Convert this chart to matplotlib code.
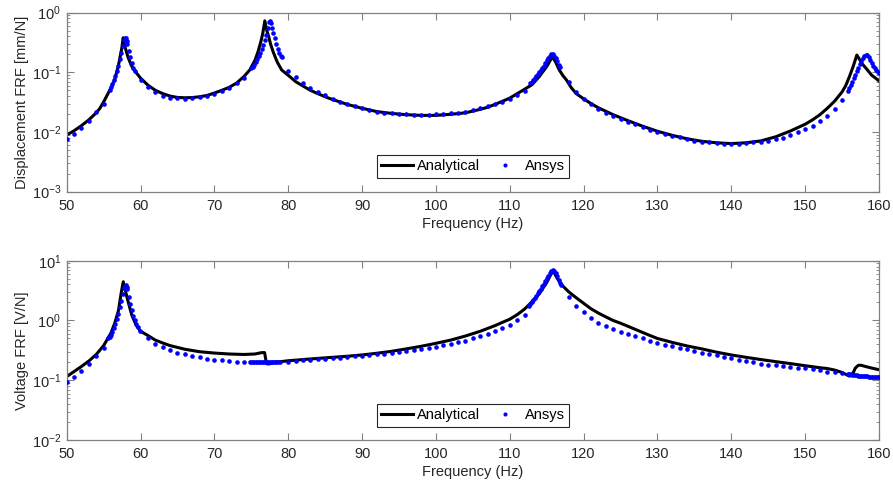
import matplotlib
matplotlib.use('Agg')
import matplotlib.pyplot as plt

plt.rcParams['font.family'] = ['Liberation Sans', 'DejaVu Sans']
plt.rcParams['font.size'] = 10

# displacement FRF [mm/N], analytical curve
disp_ana_f = [50, 51, 52, 53, 54, 54.5, 55, 56, 56.5, 57, 57.45, 57.65, 57.8, 58, 58.3, 58.7, 59, 60,
              61, 62, 63, 64, 65, 66, 67, 68, 69, 70, 71, 72, 73, 74, 74.8, 75.5, 75.9, 76.3, 76.55,
              76.83, 77.1, 77.35, 77.6, 77.96, 78.5, 79.1, 80.2, 81, 82, 83, 84, 85, 86, 87, 88, 90,
              92, 94, 96, 98, 100, 102, 104, 106, 107, 108, 110, 112, 113, 114, 115, 115.5, 115.75,
              116.2, 116.7, 117.2, 117.7, 118.3, 119, 120, 121, 122, 124, 126, 128, 130, 132, 134,
              136, 138, 140, 142, 144, 146, 148, 150, 151, 152, 153, 154, 155, 155.5, 156, 156.5,
              157, 157.3, 157.7, 158.3, 159, 160]
disp_ana = [0.0089, 0.0105, 0.0128, 0.016, 0.021, 0.025, 0.032, 0.055, 0.075, 0.13, 0.25, 0.38, 0.3,
            0.24, 0.18, 0.135, 0.115, 0.08, 0.061, 0.05, 0.044, 0.04, 0.038, 0.0375, 0.0378, 0.039,
            0.041, 0.045, 0.05, 0.056, 0.066, 0.085, 0.11, 0.16, 0.22, 0.33, 0.45, 0.73, 0.5, 0.4,
            0.3, 0.22, 0.15, 0.11, 0.085, 0.07, 0.059, 0.05, 0.044, 0.039, 0.035, 0.032, 0.029,
            0.025, 0.022, 0.0205, 0.0195, 0.019, 0.019, 0.0198, 0.021, 0.024, 0.026, 0.029, 0.037,
            0.052, 0.062, 0.085, 0.125, 0.16, 0.185, 0.15, 0.11, 0.088, 0.074, 0.056, 0.044, 0.036,
            0.03, 0.0255, 0.0195, 0.0155, 0.0125, 0.0103, 0.0088, 0.0077, 0.007, 0.0066, 0.0064,
            0.0066, 0.0071, 0.0083, 0.0104, 0.0135, 0.016, 0.0195, 0.025, 0.033, 0.047, 0.06, 0.085,
            0.125, 0.195, 0.17, 0.14, 0.115, 0.09, 0.072]

# displacement FRF, Ansys points
disp_ansys_f = [50, 51, 52, 53, 54, 55,
                55.8, 56.0, 56.2, 56.4, 56.6, 56.8, 57.0, 57.2, 57.4, 57.6, 57.8, 57.9, 58.0, 58.1,
                58.2, 58.4, 58.6, 58.8, 59.0, 59.2,
                60, 61, 62, 63, 64, 65, 66, 67, 68, 69, 70, 71, 72, 73, 74,
                75.0, 75.2, 75.4, 75.6, 75.8, 76.0, 76.2, 76.4, 76.6, 76.8, 77.0, 77.2, 77.4, 77.5,
                77.6, 77.8, 78.0, 78.2, 78.4, 78.6, 78.8, 79.0, 79.1,
                80, 81, 82, 83, 84, 85, 86, 87, 88, 89, 90, 91, 92, 93, 94, 95, 96, 97, 98, 99, 100,
                101, 102, 103, 104, 105, 106, 107, 108, 109, 110, 111, 112,
                112.8, 113.0, 113.2, 113.4, 113.6, 113.8, 114.0, 114.2, 114.4, 114.6, 114.8, 115.0,
                115.2, 115.4, 115.6, 115.8, 116.0, 116.2, 116.4, 116.6, 116.75,
                118, 119, 120, 121, 122, 123, 124, 125, 126, 127, 128, 129, 130, 131, 132, 133, 134,
                135, 136, 137, 138, 139, 140, 141, 142, 143, 144, 145, 146, 147, 148, 149, 150, 151,
                152, 153, 154, 155,
                155.8, 156.0, 156.2, 156.4, 156.6, 156.8, 157.0, 157.2, 157.4, 157.6, 157.8, 158.0,
                158.2, 158.4, 158.6, 158.8, 159.0, 159.2, 159.4, 159.6, 159.8, 160.0]
disp_ansys = [0.0076, 0.0093, 0.0118, 0.0155, 0.0214, 0.03,
              0.05, 0.056, 0.064, 0.074, 0.088, 0.105, 0.13, 0.165, 0.21, 0.28, 0.35, 0.38, 0.37,
              0.34, 0.3, 0.23, 0.18, 0.145, 0.12, 0.105,
              0.074, 0.056, 0.046, 0.0407, 0.0375, 0.0365, 0.0363, 0.037, 0.038, 0.04, 0.044, 0.049,
              0.055, 0.066, 0.081,
              0.117, 0.125, 0.135, 0.148, 0.165, 0.185, 0.21, 0.245, 0.29, 0.35, 0.43, 0.55, 0.7,
              0.73, 0.68, 0.55, 0.45, 0.37, 0.3, 0.25, 0.215, 0.19, 0.18,
              0.107, 0.082, 0.066, 0.055, 0.047, 0.041, 0.036, 0.032, 0.029, 0.027, 0.025, 0.0235,
              0.022, 0.021, 0.0205, 0.02, 0.0197, 0.0195, 0.0195, 0.0195, 0.0197, 0.02, 0.0205,
              0.021, 0.022, 0.0235, 0.025, 0.027, 0.029, 0.032, 0.036, 0.041, 0.049,
              0.066, 0.07, 0.075, 0.08, 0.086, 0.093, 0.1, 0.108, 0.118, 0.13, 0.143, 0.158, 0.175,
              0.19, 0.2, 0.2, 0.19, 0.172, 0.152, 0.135, 0.124,
              0.068, 0.047, 0.036, 0.029, 0.0244, 0.021, 0.0184, 0.0167, 0.015, 0.0135, 0.0122,
              0.011, 0.0101, 0.0093, 0.0087, 0.0081, 0.0076, 0.0072, 0.0069, 0.0067, 0.0065, 0.0064,
              0.0064, 0.0064, 0.0065, 0.0067, 0.0069, 0.0072, 0.0076, 0.0079, 0.0088, 0.0099, 0.0111,
              0.0128, 0.0155, 0.0188, 0.0247, 0.034,
              0.049, 0.055, 0.062, 0.07, 0.08, 0.092, 0.105, 0.12, 0.138, 0.155, 0.172, 0.187, 0.196,
              0.195, 0.18, 0.16, 0.145, 0.13, 0.118, 0.108, 0.1, 0.096]

# voltage FRF [V/N], analytical curve
volt_ana_f = [50, 51, 52, 53, 54, 55, 56, 56.5, 57, 57.4, 57.66, 57.9, 58.2, 58.5, 58.8, 59.2, 59.5,
              60, 61, 62, 63, 64, 66, 68, 70, 72, 74, 75.5, 76.4, 76.8, 77.05, 77.3, 77.6, 78, 79,
              80, 82, 84, 86, 88, 90, 92, 94, 96, 98, 100, 102, 104, 106, 108, 109, 110, 111, 112,
              113, 114, 115, 115.85, 116.3, 116.7, 117, 117.5, 118, 119, 120, 121, 122, 123, 124,
              125, 126, 127, 128, 129, 130, 132, 134, 136, 138, 140, 142, 144, 146, 148, 150, 152,
              153, 154, 155, 156, 156.4, 156.8, 157.2, 157.6, 158, 159, 160]
volt_ana = [0.115, 0.14, 0.17, 0.21, 0.27, 0.38, 0.62, 0.9, 1.45, 3.0, 4.45, 3.3, 2.35, 1.7, 1.25,
            0.95, 0.8, 0.66, 0.56, 0.47, 0.42, 0.38, 0.33, 0.3, 0.285, 0.275, 0.27, 0.275, 0.29,
            0.29, 0.19, 0.187, 0.19, 0.2, 0.205, 0.212, 0.222, 0.232, 0.242, 0.252, 0.265, 0.283,
            0.305, 0.335, 0.37, 0.415, 0.47, 0.55, 0.66, 0.82, 0.93, 1.05, 1.25, 1.55, 2.05, 2.8,
            4.3, 6.9, 5.4, 4.5, 4.0, 3.45, 3.0, 2.4, 1.94, 1.57, 1.33, 1.15, 1.0, 0.9, 0.8, 0.71,
            0.63, 0.56, 0.5, 0.43, 0.375, 0.335, 0.295, 0.265, 0.242, 0.222, 0.205, 0.19, 0.175,
            0.162, 0.157, 0.148, 0.135, 0.117, 0.125, 0.16, 0.178, 0.178, 0.172, 0.16, 0.15]

# voltage FRF, Ansys points
volt_ansys_f = [50, 51, 52, 53, 54, 55,
                55.6, 55.8, 56.0, 56.2, 56.4, 56.6, 56.8, 57.0, 57.2, 57.4, 57.6, 57.8, 57.9, 58.0,
                58.1, 58.2, 58.4, 58.6, 58.8, 59.0, 59.2, 59.4, 59.6, 59.9,
                61, 62, 63, 64, 65, 66, 67, 68, 69, 70, 71, 72, 73, 74,
                74.8, 75.0, 75.2, 75.4, 75.6, 75.8, 76.0, 76.2, 76.4, 76.6, 76.8, 77.0, 77.2, 77.4,
                77.6, 77.8, 78.0, 78.2, 78.4, 78.6, 78.9,
                80, 81, 82, 83, 84, 85, 86, 87, 88, 89, 90, 91, 92, 93, 94, 95, 96, 97, 98, 99, 100,
                101, 102, 103, 104, 105, 106, 107, 108, 109, 110, 111, 112,
                112.6, 112.8, 113.0, 113.2, 113.4, 113.6, 113.8, 114.0, 114.2, 114.4, 114.6, 114.8,
                115.0, 115.2, 115.4, 115.6, 115.8, 116.0, 116.2, 116.4, 116.6, 116.8, 117.0,
                118, 119, 120, 121, 122, 123, 124, 125, 126, 127, 128, 129, 130, 131, 132, 133, 134,
                135, 136, 137, 138, 139, 140, 141, 142, 143, 144, 145, 146, 147, 148, 149, 150, 151,
                152, 153, 154, 155,
                155.8, 156.0, 156.2, 156.4, 156.6, 156.8, 157.0, 157.2, 157.4, 157.6, 157.8, 158.0,
                158.2, 158.4, 158.6, 158.8, 159.0, 159.2, 159.4, 159.6, 159.8, 160.0]
volt_ansys = [0.095, 0.115, 0.145, 0.19, 0.25, 0.35,
              0.5, 0.53, 0.57, 0.64, 0.74, 0.87, 1.05, 1.3, 1.65, 2.1, 2.8, 3.5, 3.8, 3.9, 3.7,
              3.3, 2.5, 1.9, 1.5, 1.2, 1.0, 0.88, 0.78, 0.66,
              0.515, 0.41, 0.355, 0.32, 0.29, 0.27, 0.254, 0.243, 0.23, 0.22, 0.215, 0.21, 0.205,
              0.2,
              0.2, 0.2, 0.2, 0.2, 0.2, 0.2, 0.2, 0.2, 0.2, 0.2, 0.2, 0.2, 0.2, 0.2, 0.2, 0.2, 0.2,
              0.2, 0.2, 0.2, 0.2,
              0.205, 0.21, 0.215, 0.22, 0.225, 0.23, 0.235, 0.24, 0.245, 0.25, 0.255, 0.262, 0.27,
              0.28, 0.29, 0.3, 0.31, 0.322, 0.335, 0.35, 0.365, 0.385, 0.405, 0.43, 0.46, 0.5, 0.54,
              0.59, 0.66, 0.74, 0.84, 1.0, 1.25,
              1.75, 1.9, 2.05, 2.2, 2.4, 2.6, 2.85, 3.1, 3.4, 3.75, 4.15, 4.6, 5.1, 5.6, 6.2, 6.7,
              6.95, 6.8, 6.2, 5.5, 4.8, 4.3, 3.9,
              2.5, 1.77, 1.37, 1.09, 0.92, 0.81, 0.72, 0.65, 0.59, 0.54, 0.5, 0.46, 0.42, 0.39,
              0.37, 0.35, 0.33, 0.31, 0.29, 0.275, 0.26, 0.245, 0.232, 0.222, 0.212, 0.2, 0.19,
              0.183, 0.177, 0.171, 0.166, 0.162, 0.158, 0.152, 0.146, 0.14, 0.135, 0.13,
              0.127, 0.126, 0.125, 0.124, 0.123, 0.122, 0.121, 0.12, 0.119, 0.118, 0.117, 0.117,
              0.116, 0.116, 0.115, 0.115, 0.114, 0.114, 0.113, 0.113, 0.112, 0.112]

xticks = [50, 60, 70, 80, 90, 100, 110, 120, 130, 140, 150, 160]

fig = plt.figure(figsize=(8.93, 4.82), dpi=100)
ax1 = fig.add_axes([0.0747, 0.6023, 0.9096, 0.3714])
ax2 = fig.add_axes([0.0747, 0.0871, 0.9096, 0.3720])

panels = [(ax1, disp_ana_f, disp_ana, disp_ansys_f, disp_ansys, (1e-3, 1e0), 'Displacement FRF [mm/N]', 0.078),
          (ax2, volt_ana_f, volt_ana, volt_ansys_f, volt_ansys, (1e-2, 1e1), 'Voltage FRF [V/N]', 0.074)]

for ax, fa, ya, fs, ys, ylim, ylab, legy in panels:
    ax.plot(fa, ya, color='black', linewidth=2.2, label='Analytical', zorder=2)
    ax.plot(fs, ys, linestyle='none', marker='o', markersize=3.3, color='#0000ff',
            markeredgewidth=0, label='Ansys', zorder=3)
    ax.set_yscale('log')
    ax.set_xlim(50, 160)
    ax.set_ylim(*ylim)
    ax.set_xticks(xticks)
    ax.set_xlabel('Frequency (Hz)', fontsize=10.5, color='#262626', labelpad=3)
    ax.set_ylabel(ylab, fontsize=10.5, color='#262626', labelpad=2)
    ax.tick_params(which='both', direction='in', top=True, right=True, colors='#808080',
                   labelcolor='#262626', labelsize=10.5)
    ax.tick_params(axis='x', which='major', length=5, pad=5)
    ax.tick_params(axis='y', which='major', length=5, pad=4)
    ax.tick_params(which='minor', length=2.5)
    for s in ax.spines.values():
        s.set_color('#808080')
        s.set_linewidth(0.9)
    leg = ax.legend(loc='lower center', bbox_to_anchor=(0.5, legy), ncol=2, fancybox=False,
                    framealpha=1, edgecolor='#262626', fontsize=10.5, handlelength=2.2,
                    handletextpad=0.25, columnspacing=0.6, borderpad=0.3, borderaxespad=0,
                    markerscale=0.9)
    leg.get_frame().set_linewidth(0.8)

fig.savefig('out.png', dpi=100)
